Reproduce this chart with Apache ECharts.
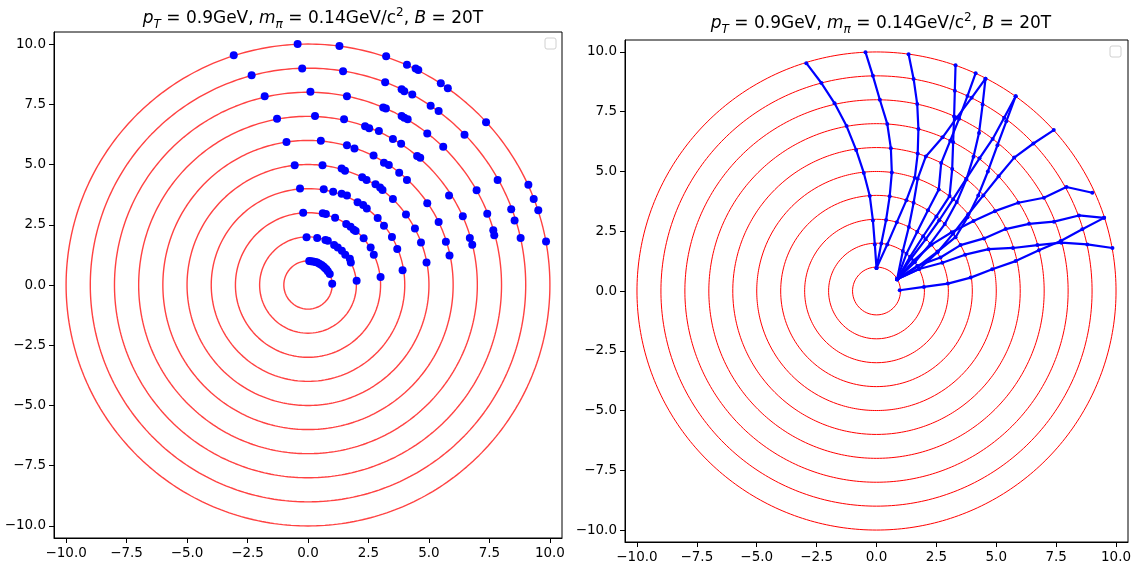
<!DOCTYPE html>
<html><head><meta charset="utf-8">
<script src="https://cdn.jsdelivr.net/npm/echarts@6/dist/echarts.min.js"></script>
<style>html,body{margin:0;padding:0;background:#fff}#c{width:1137px;height:568px}</style>
</head><body><div id="c"></div>
<script>
// ---------- data ----------
const radii = [1, 2, 3, 4, 5, 6, 7, 8, 9, 10];
const tickValues = [-10, -7.5, -5, -2.5, 0, 2.5, 5, 7.5, 10];

// left panel: hits per layer
const layer1 = [[0.05,1.00],[0.12,0.99],[0.21,0.98],[0.30,0.95],[0.38,0.93],[0.47,0.88],[0.56,0.83],[0.64,0.77],[0.70,0.71],[0.76,0.65],[0.82,0.57],[0.90,0.46],[1.00,0.05]];
const layer2 = [[-0.06,1.98],[0.38,1.95],[0.72,1.87],[0.82,1.84],[1.08,1.66],[1.23,1.56],[1.40,1.42],[1.54,1.26],[1.73,1.09],[1.77,0.93],[2.01,0.18]];
const layer3 = [[-0.20,3.00],[0.61,2.98],[0.74,2.95],[1.12,2.79],[1.58,2.53],[1.76,2.42],[1.89,2.29],[1.97,2.24],[2.30,1.94],[2.59,1.56],[2.72,1.26],[3.00,0.33]];
const layer4 = [[-0.33,4.00],[0.65,3.97],[1.04,3.87],[1.39,3.79],[1.61,3.71],[2.05,3.43],[2.28,3.32],[2.43,3.17],[2.88,2.78],[3.14,2.46],[3.47,1.99],[3.69,1.49],[3.91,0.61]];
const layer5 = [[-0.55,4.97],[0.60,4.97],[1.39,4.83],[1.53,4.74],[2.24,4.47],[2.42,4.36],[2.79,4.18],[2.98,4.05],[3.08,3.94],[3.51,3.57],[4.05,2.93],[4.42,2.34],[4.67,1.76],[4.90,0.93]];
const layer6 = [[-0.89,5.93],[0.53,5.99],[1.61,5.80],[1.92,5.67],[2.71,5.37],[3.14,5.07],[3.34,4.98],[3.77,4.66],[4.09,4.36],[4.93,3.39],[5.40,2.61],[5.70,1.80],[5.85,1.22]];
const layer7 = [[-1.28,6.90],[0.29,7.01],[1.49,6.88],[2.36,6.59],[2.53,6.51],[2.93,6.39],[3.51,6.06],[3.85,5.86],[4.51,5.35],[4.64,5.28],[5.83,3.71],[6.40,2.85],[6.69,1.95],[6.79,1.67]];
const layer8 = [[-1.79,7.83],[0.10,8.02],[1.61,7.83],[3.11,7.37],[3.22,7.33],[3.87,7.01],[3.98,6.94],[4.12,6.88],[4.93,6.29],[5.59,5.74],[6.97,3.93],[7.41,2.96],[7.66,2.27],[7.70,2.06]];
const layer9 = [[-2.33,8.71],[-0.24,8.99],[1.45,8.87],[3.19,8.41],[3.87,8.12],[3.98,8.04],[4.31,7.91],[5.07,7.44],[5.40,7.22],[6.47,6.24],[7.84,4.36],[8.40,3.14],[8.54,2.68],[8.79,1.95]];
const layer10 = [[-3.07,9.53],[-0.43,10.0],[1.30,9.92],[3.23,9.49],[4.09,9.14],[4.45,8.99],[4.56,8.92],[5.49,8.37],[5.78,8.17],[7.36,6.75],[9.11,4.16],[9.33,3.57],[9.52,3.10],[9.84,1.81]];
const layers = [layer1, layer2, layer3, layer4, layer5, layer6, layer7, layer8, layer9, layer10];

// right panel: tracks (one vertex per layer)
const track1  = [[0.00,0.96],[-0.07,1.95],[-0.15,2.95],[-0.28,3.97],[-0.53,4.94],[-0.85,5.90],[-1.25,6.90],[-1.75,7.85],[-2.30,8.70],[-2.93,9.53]];
const track2  = [[0.00,0.96],[0.20,1.99],[0.40,2.97],[0.55,3.96],[0.64,4.96],[0.60,5.97],[0.45,6.99],[0.14,8.00],[-0.15,9.00],[-0.46,9.99]];
const track3  = [[0.00,0.96],[0.45,1.95],[0.85,2.88],[1.25,3.80],[1.60,4.74],[1.72,5.75],[1.75,6.78],[1.70,7.82],[1.55,8.87],[1.34,9.90]];
const track4  = [[0.86,0.49],[1.40,1.43],[1.95,2.29],[2.50,3.12],[3.05,3.97],[3.16,5.10],[3.20,6.22],[3.24,7.30],[3.27,8.38],[3.30,9.44]];
const track5  = [[0.86,0.49],[1.25,1.56],[1.70,2.48],[2.15,3.38],[2.60,4.25],[2.70,5.35],[3.08,6.29],[3.45,7.21],[3.80,8.16],[4.14,9.11]];
const track6  = [[0.86,0.49],[1.10,1.67],[1.35,2.68],[1.55,3.69],[1.72,4.70],[2.06,5.63],[2.76,6.43],[3.36,7.26],[3.97,8.08],[4.55,8.88]];
const track7  = [[0.86,0.49],[1.60,1.20],[2.25,1.98],[2.85,2.80],[3.35,3.72],[3.75,4.66],[4.05,5.62],[4.28,6.61],[4.43,7.80],[4.55,8.88]];
const track8  = [[0.86,0.49],[1.45,1.37],[2.05,2.16],[2.62,2.96],[3.20,3.84],[3.75,4.70],[4.30,5.55],[4.85,6.36],[5.33,7.25],[5.81,8.15]];
const track9  = [[0.86,0.49],[1.72,1.02],[2.55,1.65],[3.30,2.25],[3.80,3.08],[4.25,4.00],[4.65,5.00],[5.05,6.10],[5.42,7.10],[5.81,8.15]];
const track10 = [[0.86,0.49],[1.78,0.92],[2.55,1.62],[3.20,2.40],[3.83,3.21],[4.46,4.00],[5.10,4.80],[5.75,5.58],[6.55,6.17],[7.40,6.73]];
const track11 = [[0.86,0.49],[1.54,1.26],[2.30,1.94],[3.14,2.46],[4.05,2.93],[4.94,3.34],[5.92,3.69],[6.99,3.90],[7.93,4.35],[9.01,4.11]];
const track12 = [[0.86,0.49],[1.70,1.05],[2.67,1.40],[3.51,1.92],[4.49,2.20],[5.39,2.59],[6.37,2.81],[7.41,2.90],[8.45,3.16],[9.50,3.06]];
const track13 = [[0.97,0.03],[1.98,0.17],[2.98,0.31],[3.93,0.56],[4.83,0.91],[5.81,1.25],[6.78,1.70],[7.69,2.09],[8.59,2.58],[9.50,3.06]];
const track14 = [[0.86,0.49],[1.78,0.92],[2.75,1.18],[3.70,1.52],[4.68,1.75],[5.70,1.80],[6.72,1.92],[7.72,2.02],[8.80,1.95],[9.85,1.80]];
const tracks = [track1, track2, track3, track4, track5, track6, track7, track8, track9, track10, track11, track12, track13, track14];

// ---------- chart ----------
const FONT = "'DejaVu Sans', sans-serif";
function circlePts(r) {
  const pts = [];
  for (let i = 0; i <= 360; i++) {
    const a = i * Math.PI / 180;
    pts.push([r * Math.cos(a), r * Math.sin(a)]);
  }
  return pts;
}
function fmt(v) { return (v < 0 ? '\u2212' : '') + Math.abs(v).toFixed(1); }

const grids = [
  { left: 54, top: 32, width: 508, height: 506 },
  { left: 625, top: 40, width: 503, height: 502 }
];

function axis(i) {
  return {
    type: 'value', gridIndex: i, min: -10.5, max: 10.5,
    splitLine: { show: false },
    axisLine: { show: true, onZero: false, lineStyle: { color: '#000', width: 1 } },
    axisTick: { show: true, customValues: tickValues, length: 5, lineStyle: { color: '#000' } },
    axisLabel: { customValues: tickValues, formatter: fmt, color: '#000', fontSize: 13.5, fontFamily: FONT, margin: 8 }
  };
}

const series = [];
radii.forEach(r => {
  series.push({ type: 'line', xAxisIndex: 0, yAxisIndex: 0, data: circlePts(r), showSymbol: false, silent: true,
    lineStyle: { color: '#ff2020', width: 1.4, opacity: 0.85 }, z: 2 });
  series.push({ type: 'line', xAxisIndex: 1, yAxisIndex: 1, data: circlePts(r), showSymbol: false, silent: true,
    lineStyle: { color: '#ff0000', width: 1 }, z: 2 });
});
series.push({ type: 'scatter', xAxisIndex: 0, yAxisIndex: 0, data: [].concat(...layers), symbolSize: 8,
  itemStyle: { color: '#0000ff', opacity: 1 }, z: 5 });
tracks.forEach(t => {
  series.push({ type: 'line', xAxisIndex: 1, yAxisIndex: 1, data: t, symbol: 'circle', symbolSize: 4, showSymbol: true,
    lineStyle: { color: '#0000ff', width: 2.2 }, itemStyle: { color: '#0000ff' }, z: 5 });
});

const titleText = '{i|p}{sub|T}{n| = 0.9GeV, }{i|m}{sub|\u03c0}{n| = 0.14GeV/c}{sup|2}{n|, }{i|B}{n| = 20T}';
const base = { fontFamily: FONT, color: '#000', fontWeight: 'normal', lineHeight: 24 };
const titleRich = {
  n: Object.assign({ fontSize: 17, verticalAlign: 'middle' }, base),
  i: Object.assign({ fontSize: 17, fontStyle: 'italic', verticalAlign: 'middle' }, base),
  sub: Object.assign({ fontSize: 12, fontStyle: 'italic', verticalAlign: 'bottom' }, base),
  sup: Object.assign({ fontSize: 12, verticalAlign: 'top' }, base)
};

const chart = echarts.init(document.getElementById('c'), null, { renderer: 'canvas' });
chart.setOption({
  animation: false,
  backgroundColor: '#fff',
  title: [
    { text: titleText, left: 308, top: 2, textAlign: 'center', textStyle: { fontWeight: 'normal', rich: titleRich } },
    { text: titleText, left: 876, top: 7, textAlign: 'center', textStyle: { fontWeight: 'normal', rich: titleRich } }
  ],
  grid: grids.map(g => Object.assign({ show: true, borderColor: '#000', borderWidth: 1, backgroundColor: 'transparent' }, g)),
  xAxis: [axis(0), axis(1)],
  yAxis: [axis(0), axis(1)],
  series: series,
  graphic: [
    { type: 'rect', shape: { x: 545, y: 38, width: 11, height: 11, r: 2 }, style: { fill: '#fff', stroke: '#d0d0d0', lineWidth: 1 }, z: 10 },
    { type: 'rect', shape: { x: 1110, y: 46, width: 11, height: 11, r: 2 }, style: { fill: '#fff', stroke: '#d0d0d0', lineWidth: 1 }, z: 10 }
  ]
});
</script></body></html>
